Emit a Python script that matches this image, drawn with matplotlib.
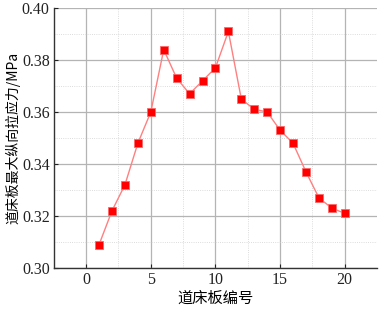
import numpy as np
import matplotlib.pyplot as plt
from matplotlib.ticker import MultipleLocator

# 道床板编号 & 最大纵向拉应力
board_no = list(range(1, 21))
stress = [0.309, 0.322, 0.332, 0.348, 0.360, 0.384, 0.373, 0.367, 0.372, 0.377,
          0.391, 0.365, 0.361, 0.360, 0.353, 0.348, 0.337, 0.327, 0.323, 0.321]

xticks = [0, 5, 10, 15, 20]
yticks = [0.30, 0.32, 0.34, 0.36, 0.38, 0.40]

cjk = ['Noto Sans CJK SC', 'DejaVu Sans']

fig = plt.figure(figsize=(3.82, 3.09), dpi=100)
ax = fig.add_axes([0.141, 0.133, 0.846, 0.841])

ax.plot(board_no, stress, color='#ff8080', lw=1.0, marker='s', ms=5.5,
        markerfacecolor='#ff0000', markeredgecolor='#ff6666', markeredgewidth=0.6)

ax.set_xlim(-2.5, 22.5)
ax.set_ylim(0.30, 0.40)
ax.set_xticks(xticks)
ax.set_yticks(yticks)
ax.set_yticklabels([f'{v:.2f}' for v in yticks])
ax.xaxis.set_minor_locator(MultipleLocator(2.5))
ax.yaxis.set_minor_locator(MultipleLocator(0.01))

ax.grid(True, which='major', color='#b4b4b4', lw=0.9)
ax.grid(True, which='minor', color='#d0d0d0', lw=0.6, ls=':')
ax.set_axisbelow(True)

for s in ['top', 'right']:
    ax.spines[s].set_visible(False)
for s in ['left', 'bottom']:
    ax.spines[s].set_linewidth(1.0)
    ax.spines[s].set_color('#333333')

ax.tick_params(which='major', direction='in', length=3, labelsize=11.5,
               colors='#222222', pad=3)
ax.tick_params(which='minor', length=0)
for lab in ax.get_xticklabels() + ax.get_yticklabels():
    lab.set_fontfamily('Liberation Serif')

ax.set_xlabel('道床板编号', family=cjk, fontsize=11, labelpad=1)
ax.set_ylabel('道床板最大纵向拉应力/MPa', family=cjk, fontsize=10, labelpad=1)

fig.savefig('out.png', dpi=100)
